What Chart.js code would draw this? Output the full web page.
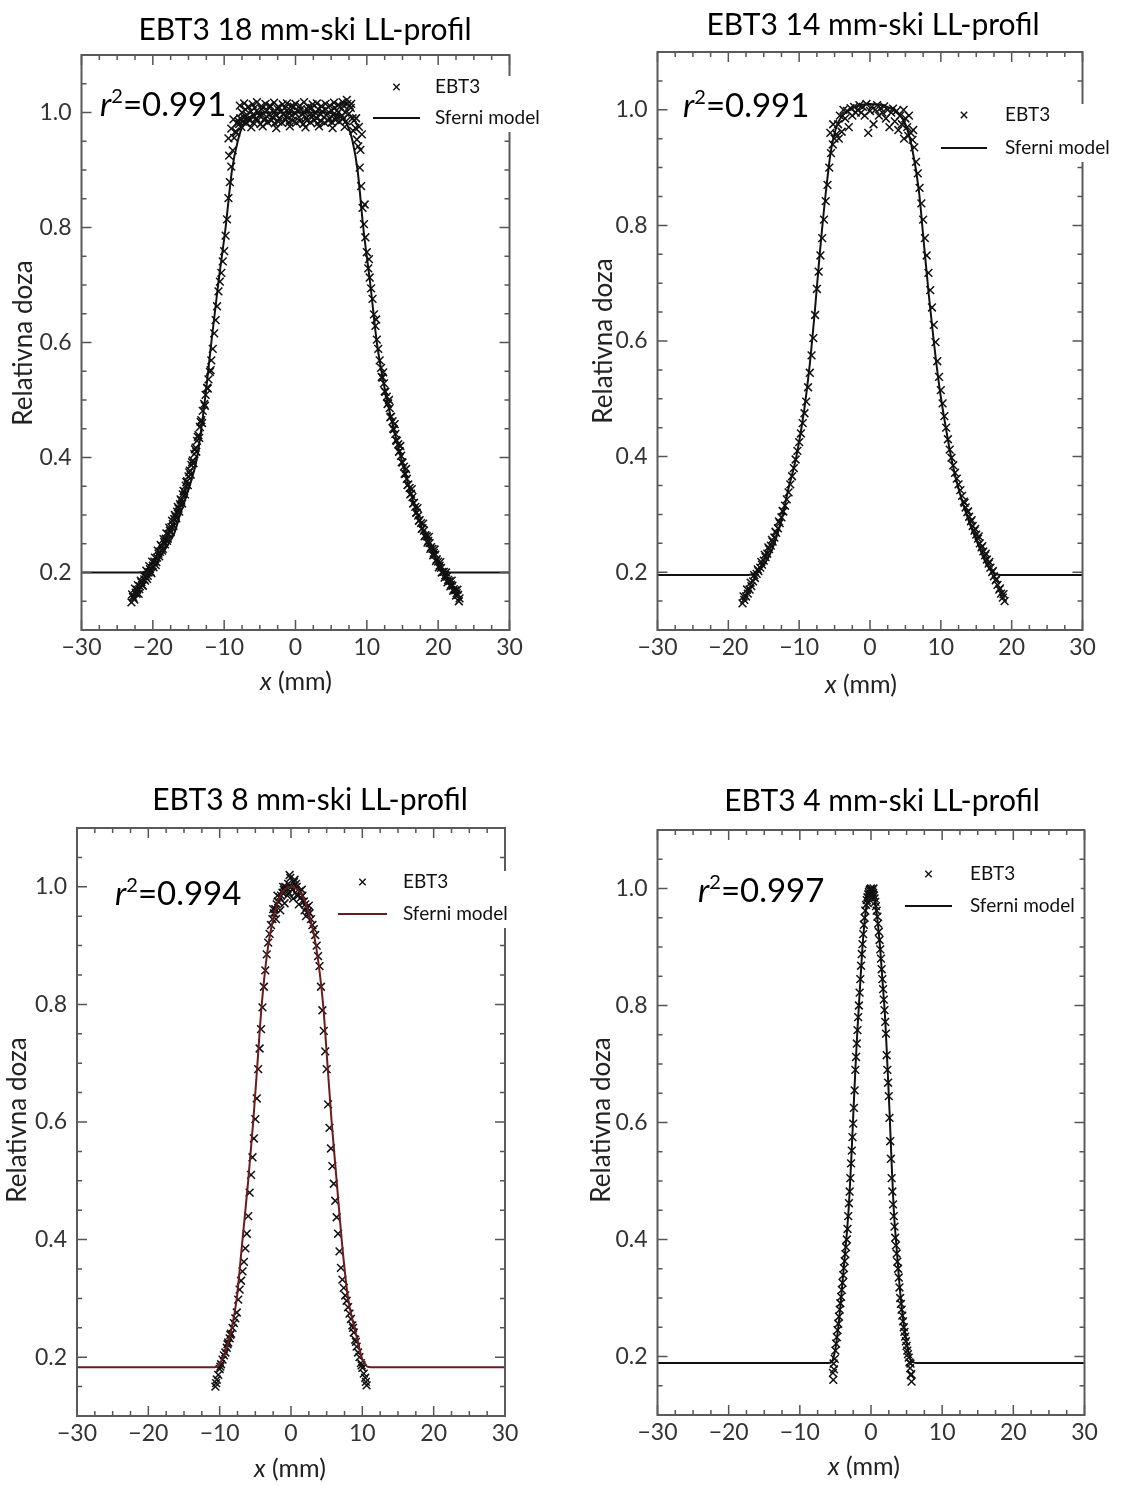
<!DOCTYPE html>
<html><head><meta charset="utf-8">
<script src="https://cdn.jsdelivr.net/npm/chart.js@4/dist/chart.umd.min.js"></script>
<style>
html,body{margin:0;padding:0;background:#fff;}
body{width:1126px;height:1486px;position:relative;overflow:hidden;}
canvas{position:absolute;}
</style></head><body>
<canvas id="c1"></canvas><canvas id="c2"></canvas><canvas id="c3"></canvas><canvas id="c4"></canvas>
<script>
// ---------- data ----------
const PANEL_TITLES = ['EBT3 18 mm-ski LL-profil','EBT3 14 mm-ski LL-profil','EBT3 8 mm-ski LL-profil','EBT3 4 mm-ski LL-profil'];
const R2_VALUES = ['0.991','0.991','0.994','0.997'];
const LEGEND_LABELS = ['EBT3','Sferni model'];
const X_TITLE = ['x',' (mm)'];
const Y_TITLE = 'Relativna doza';
const X_TICKS = [-30,-20,-10,0,10,20,30];
const Y_TICKS = [0.2,0.4,0.6,0.8,1.0];

const EBT3_18 = [
[-23.0,0.148],[-22.8,0.158],[-22.6,0.153],[-22.4,0.165],[-22.2,0.170],[-22.0,0.163],[-21.8,0.176],[-21.6,0.183],[-21.4,0.177],[-21.2,0.188],[-21.0,0.193],[-20.8,0.189],[-20.6,0.200],[-20.4,0.206],[-20.2,0.199],[-20.0,0.212],[-19.8,0.219],[-19.6,0.213],[-19.4,0.226],[-19.2,0.233],[-19.0,0.236],[-18.8,0.246],[-18.6,0.241],[-18.4,0.253],[-18.2,0.259],[-18.0,0.255],[-17.8,0.267],[-17.6,0.273],[-17.4,0.279],[-17.2,0.284],[-17.0,0.293],[-16.8,0.297],[-16.6,0.306],[-16.4,0.311],[-16.2,0.319],[-16.0,0.325],[-15.8,0.336],[-15.6,0.341],[-15.4,0.351],[-15.2,0.359],[-15.0,0.367],[-14.8,0.377],[-14.6,0.387],[-14.4,0.395],[-14.2,0.406],[-14.0,0.417],[-13.8,0.429],[-13.6,0.439],[-13.4,0.453],[-13.2,0.465],[-13.0,0.481],[-12.8,0.493],[-12.6,0.509],[-12.4,0.521],[-12.2,0.536],[-12.0,0.549],[-11.8,0.569],[-11.6,0.589],[-11.4,0.616],[-11.2,0.639],[-11.0,0.663],[-10.8,0.689],[-10.6,0.706],[-10.4,0.721],[-10.2,0.741],[-10.0,0.759],[-9.8,0.786],[-9.6,0.814],[-9.4,0.851],[-9.2,0.879],[-9.0,0.906],[-8.8,0.934],[-8.6,0.956],[-8.4,0.967],[-8.2,0.981],
[-22.9,0.162],[-22.5,0.172],[-22.1,0.178],[-21.7,0.186],[-21.3,0.195],[-20.9,0.203],[-20.5,0.211],[-20.1,0.219],[-19.7,0.226],[-19.3,0.238],[-18.9,0.248],[-18.5,0.258],[-18.1,0.268],[-17.7,0.278],[-17.3,0.290],[-16.9,0.300],[-16.5,0.314],[-16.1,0.327],[-15.7,0.342],[-15.3,0.357],[-14.9,0.374],[-14.5,0.392],[-14.1,0.414],[-13.7,0.436],[-13.3,0.462],[-9.4,0.955],[-9.0,0.972],[-8.7,0.988],[-9.3,0.925],
[-22.7,0.156],[-22.3,0.163],[-21.9,0.171],[-21.5,0.178],[-21.1,0.186],[-20.7,0.194],[-20.3,0.201],[-19.9,0.209],[-19.5,0.218],[-19.1,0.228],[-18.7,0.238],[-18.3,0.249],[-17.9,0.259],[-17.5,0.270],[-17.1,0.281],[-16.7,0.294],[-16.3,0.306],[-15.9,0.320],[-15.5,0.336],[-15.1,0.352],[-14.7,0.370],[-14.3,0.390],[-13.9,0.410],[-13.5,0.434],[-13.1,0.460],[-12.7,0.490],[-12.3,0.520],[-11.9,0.552],
[-8.0,0.985],[-7.75,0.990],[-7.5,1.000],[-7.25,0.992],[-7.0,1.005],[-6.75,0.995],[-6.5,0.988],[-6.25,1.002],[-6.0,0.996],[-5.75,1.008],[-5.5,0.990],[-5.25,1.000],[-5.0,0.994],[-4.75,1.006],[-4.5,0.998],[-4.25,0.990],[-4.0,1.004],[-3.75,0.996],[-3.5,1.010],[-3.25,0.992],[-3.0,1.000],[-2.75,0.995],[-2.5,1.006],[-2.25,0.990],[-2.0,1.002],[-1.75,0.997],[-1.5,1.008],[-1.25,0.993],[-1.0,1.000],[-0.75,1.004],[-0.5,0.995],[-0.25,1.010],[0.0,0.998],[0.25,1.003],[0.5,0.992],[0.75,1.006],[1.0,0.998],[1.25,1.000],[1.5,0.990],[1.75,1.004],[2.0,0.996],[2.25,1.008],[2.5,0.994],[2.75,1.000],[3.0,0.990],[3.25,1.005],[3.5,0.997],[3.75,1.002],[4.0,0.992],[4.25,1.006],[4.5,0.998],[4.75,0.990],[5.0,1.004],[5.25,0.996],[5.5,1.008],[5.75,0.993],[6.0,1.000],[6.25,1.010],[6.5,0.995],[6.75,1.012],[7.0,1.000],[7.25,1.015],[7.5,0.998],[7.75,1.008],[8.0,0.990],
[-7.9,0.980],[-7.4,0.984],[-6.9,0.981],[-6.4,0.986],[-5.9,0.982],[-5.4,0.985],[-4.9,0.980],[-4.4,0.987],[-3.9,0.983],[-3.4,0.986],[-2.9,0.981],[-2.4,0.984],[-1.9,0.982],[-1.4,0.987],[-0.9,0.983],[-0.4,0.986],[0.1,0.982],[0.6,0.985],[1.1,0.980],[1.6,0.986],[2.1,0.983],[2.6,0.987],[3.1,0.981],[3.6,0.985],[4.1,0.982],[4.6,0.986],[5.1,0.983],[5.6,0.987],[6.1,0.984],[6.6,0.988],[7.1,0.985],[7.6,1.012],
[-7.8,1.012],[-7.2,1.016],[-6.6,1.010],[-6.0,1.014],[-5.4,1.018],[-4.8,1.011],[-4.2,1.015],[-3.6,1.012],[-3.0,1.017],[-2.4,1.010],[-1.8,1.014],[-1.2,1.016],[-0.6,1.011],[0.0,1.015],[0.6,1.012],[1.2,1.018],[1.8,1.010],[2.4,1.014],[3.0,1.016],[3.6,1.011],[4.2,1.015],[4.8,1.012],[5.4,1.017],[6.0,1.013],[6.6,1.018],[7.2,1.022],[7.8,1.015],
[-8.3,0.965],[-7.6,0.975],[-6.2,0.974],[-4.6,0.976],[-2.7,0.973],[-0.8,0.976],[1.4,0.974],[3.3,0.976],[5.2,0.973],[6.9,0.975],[8.1,0.968],[8.5,0.990],
[8.2,0.986],[8.4,0.973],[8.6,0.953],[8.8,0.941],[9.0,0.904],[9.2,0.872],[9.4,0.834],[9.6,0.806],[9.8,0.783],[10.0,0.757],[10.2,0.729],[10.4,0.713],[10.6,0.694],[10.8,0.676],[11.0,0.649],[11.2,0.629],[11.4,0.605],[11.6,0.589],[11.8,0.569],[12.0,0.556],[12.2,0.539],[12.4,0.529],[12.6,0.514],[12.8,0.506],[13.0,0.494],[13.2,0.486],[13.4,0.471],[13.6,0.463],[13.8,0.449],[14.0,0.441],[14.2,0.429],[14.4,0.423],[14.6,0.411],[14.8,0.403],[15.0,0.391],[15.2,0.384],[15.4,0.371],[15.6,0.363],[15.8,0.353],[16.0,0.347],[16.2,0.337],[16.4,0.331],[16.6,0.321],[16.8,0.314],[17.0,0.304],[17.2,0.299],[17.4,0.291],[17.6,0.286],[17.8,0.277],[18.0,0.273],[18.2,0.265],[18.4,0.263],[18.6,0.255],[18.8,0.251],[19.0,0.244],[19.2,0.241],[19.4,0.234],[19.6,0.231],[19.8,0.223],[20.0,0.219],[20.2,0.212],[20.4,0.208],[20.6,0.201],[20.8,0.201],[21.0,0.195],[21.2,0.193],[21.4,0.187],[21.6,0.185],[21.8,0.179],[22.0,0.177],[22.2,0.171],[22.4,0.169],[22.6,0.164],[22.8,0.161],[23.0,0.155],
[9.1,0.935],[9.3,0.962],[8.9,0.975],[9.7,0.840],[10.3,0.745],[11.3,0.640],[12.3,0.548],[13.1,0.500],[13.9,0.458],[14.7,0.420],[15.5,0.380],[16.3,0.345],[17.1,0.312],[17.9,0.285],[18.7,0.262],[19.5,0.240],[20.3,0.218],[21.1,0.200],[21.9,0.186],[22.7,0.170],[22.9,0.150],
[12.1,0.540],[12.5,0.515],[12.9,0.493],[13.3,0.470],[13.7,0.450],[14.1,0.430],[14.5,0.410],[14.9,0.392],[15.3,0.372],[15.7,0.352],[16.1,0.336],[16.5,0.320],[16.9,0.304],[17.3,0.290],[17.7,0.276],[18.1,0.263],[18.5,0.252],[18.9,0.241],[19.3,0.230],[19.7,0.220],[20.1,0.209],[20.5,0.200],[20.9,0.191],[21.3,0.183],[21.7,0.176],[22.1,0.168],[22.5,0.160]
];
const MODEL_18 = [[-30,0.2],[-22,0.2],[-21.3,0.201],[-20.4,0.206],[-19.5,0.218],[-18.5,0.236],[-17.8,0.25],[-17,0.268],[-16.2,0.3],[-15,0.345],[-13.8,0.4],[-12.7,0.5],[-11.8,0.6],[-10.85,0.7],[-9.8,0.8],[-8.9,0.9],[-8.1,0.95],[-7.3,0.98],[-6,0.995],[-4,1.0],[0,1.0],[4,1.0],[6,0.995],[7.2,0.98],[8.0,0.95],[8.7,0.9],[9.5,0.8],[10.5,0.7],[11.4,0.6],[12.2,0.54],[13.0,0.49],[14.0,0.438],[15.0,0.39],[16.0,0.345],[17.0,0.303],[18.0,0.268],[19.0,0.24],[20.0,0.218],[20.8,0.205],[21.5,0.2],[22,0.2],[30,0.2]];

const EBT3_14 = [
[-18.0,0.146],[-17.75,0.152],[-17.5,0.158],[-17.25,0.163],[-17.0,0.170],[-16.75,0.176],[-16.5,0.184],[-16.25,0.190],[-16.0,0.197],[-15.75,0.202],[-15.5,0.208],[-15.25,0.213],[-15.0,0.220],[-14.75,0.226],[-14.5,0.232],[-14.25,0.240],[-14.0,0.246],[-13.75,0.253],[-13.5,0.260],[-13.25,0.268],[-13.0,0.276],[-12.75,0.285],[-12.5,0.295],[-12.25,0.305],[-12.0,0.315],[-11.75,0.326],[-11.5,0.338],[-11.25,0.352],[-11.0,0.366],[-10.75,0.380],[-10.5,0.395],[-10.25,0.410],[-10.0,0.425],[-9.75,0.440],[-9.5,0.458],[-9.25,0.475],[-9.0,0.495],[-8.75,0.520],[-8.5,0.545],[-8.25,0.575],[-8.0,0.605],[-7.75,0.645],[-7.5,0.690],[-7.25,0.720],[-7.0,0.748],[-6.75,0.778],[-6.5,0.810],[-6.25,0.842],[-6.0,0.870],[-5.75,0.900],[-5.5,0.925],[-5.25,0.940],[-5.0,0.950],[-4.75,0.958],
[-17.85,0.158],[-17.35,0.170],[-16.85,0.182],[-16.35,0.195],[-15.85,0.205],[-15.35,0.218],[-14.85,0.230],[-14.35,0.243],[-13.85,0.256],[-13.35,0.270],[-12.85,0.288],[-12.35,0.306],[-5.6,0.960],[-5.2,0.975],[-4.4,0.950],
[-4.5,0.975],[-4.25,0.990],[-4.0,0.962],[-3.75,1.000],[-3.5,0.985],[-3.25,0.998],[-3.0,0.970],[-2.75,1.003],[-2.5,0.990],[-2.25,1.005],[-2.0,0.995],[-1.75,1.000],[-1.5,1.008],[-1.25,0.995],[-1.0,1.005],[-0.75,0.990],[-0.5,1.010],[-0.25,0.960],[0.0,0.998],[0.25,1.005],[0.5,0.975],[0.75,1.000],[1.0,1.008],[1.25,0.990],[1.5,1.003],[1.75,0.995],[2.0,1.006],[2.25,0.985],[2.5,1.000],[2.75,0.970],[3.0,0.995],[3.25,1.002],[3.5,0.980],[3.75,0.998],[4.0,0.965],[4.25,0.990],[4.5,0.975],[4.75,1.000],[5.0,0.985],[5.25,0.970],[5.5,0.990],[5.75,0.960],[5.4,0.955],[6.1,0.965],[4.8,0.950],
[6.0,0.948],[6.25,0.935],[6.5,0.910],[6.75,0.890],[7.0,0.865],[7.25,0.838],[7.5,0.810],[7.75,0.778],[8.0,0.748],[8.25,0.718],[8.5,0.688],[8.75,0.658],[9.0,0.628],[9.25,0.598],[9.5,0.565],[9.75,0.538],[10.0,0.515],[10.25,0.492],[10.5,0.470],[10.75,0.450],[11.0,0.430],[11.25,0.412],[11.5,0.398],[11.75,0.385],[12.0,0.372],[12.25,0.362],[12.5,0.352],[12.75,0.342],[13.0,0.332],[13.25,0.322],[13.5,0.312],[13.75,0.304],[14.0,0.296],[14.25,0.288],[14.5,0.280],[14.75,0.272],[15.0,0.265],[15.25,0.258],[15.5,0.250],[15.75,0.243],[16.0,0.236],[16.25,0.229],[16.5,0.222],[16.75,0.215],[17.0,0.208],[17.25,0.200],[17.5,0.193],[17.75,0.186],[18.0,0.178],[18.25,0.170],[18.5,0.163],[18.75,0.156],[19.0,0.150],
[18.85,0.162],[18.35,0.172],[17.85,0.188],[17.35,0.202],[16.85,0.218],[16.35,0.232],[15.85,0.245],[15.35,0.262],[14.85,0.275],[14.35,0.290],[13.85,0.305],[13.35,0.320]
];
const MODEL_14 = [[-30,0.195],[-17.5,0.195],[-16.8,0.196],[-16.0,0.2],[-15.0,0.212],[-13.8,0.24],[-12.5,0.29],[-11.5,0.345],[-10.4,0.4],[-9.3,0.48],[-8.5,0.56],[-7.8,0.65],[-7.1,0.75],[-6.3,0.85],[-5.5,0.93],[-4.6,0.975],[-3.1,0.998],[0,1.01],[3.5,0.998],[5.0,0.975],[6.0,0.93],[6.9,0.86],[7.6,0.77],[8.3,0.68],[9.0,0.6],[9.8,0.52],[10.7,0.45],[11.6,0.39],[12.6,0.34],[13.9,0.29],[15.2,0.25],[16.4,0.215],[17.3,0.2],[18.0,0.196],[18.8,0.195],[30,0.195]];

const EBT3_8 = [
[-10.6,0.150],[-10.4,0.162],[-10.2,0.170],[-10.0,0.180],[-9.8,0.188],[-9.6,0.196],[-9.4,0.203],[-9.2,0.208],[-9.0,0.216],[-8.8,0.225],[-8.6,0.232],[-8.4,0.240],[-8.2,0.250],[-8.0,0.258],[-7.8,0.266],[-7.6,0.276],[-7.4,0.298],[-7.2,0.315],[-7.0,0.330],[-6.8,0.346],[-6.6,0.362],[-6.4,0.385],[-6.2,0.410],[-6.0,0.440],[-5.8,0.480],[-5.6,0.510],[-5.4,0.540],[-5.2,0.572],[-5.0,0.605],[-4.8,0.640],[-4.6,0.690],[-4.4,0.725],[-4.2,0.758],[-4.0,0.795],[-3.8,0.830],[-3.6,0.858],[-3.4,0.885],[-3.2,0.905],[-3.0,0.920],[-2.8,0.935],[-2.6,0.945],[-2.4,0.955],[-2.2,0.962],[-2.0,0.970],[-1.8,0.975],[-1.6,0.982],[-1.4,0.985],[-1.2,0.990],[-1.0,0.995],[-0.8,1.000],[-0.6,0.998],[-0.4,1.005],[-0.2,1.020],[0.0,1.000],[0.2,0.995],[0.4,1.008],[0.6,0.990],[0.8,1.000],[1.0,0.985],[1.2,0.992],[1.4,0.982],[1.6,0.985],[1.8,0.975],[2.0,0.970],[2.2,0.965],[2.4,0.958],[2.6,0.955],[2.8,0.945],[3.0,0.935],[3.2,0.928],[3.4,0.918],[3.6,0.900],[3.8,0.882],[4.0,0.865],[4.2,0.830],[4.4,0.790],[4.6,0.755],[4.8,0.720],[5.0,0.690],[5.2,0.630],[5.4,0.590],[5.6,0.555],[5.8,0.525],[6.0,0.495],[6.2,0.466],[6.4,0.438],[6.6,0.410],[6.8,0.380],[7.0,0.352],[7.2,0.332],[7.4,0.318],[7.6,0.305],[7.8,0.296],[8.0,0.285],[8.2,0.274],[8.4,0.265],[8.6,0.254],[8.8,0.242],[9.0,0.230],[9.2,0.218],[9.4,0.208],[9.6,0.200],[9.8,0.190],[10.0,0.182],[10.2,0.172],[10.4,0.165],[10.6,0.152],
[-1.5,0.960],[-1.1,1.000],[-0.5,0.985],[-0.1,1.015],[0.3,0.980],[0.7,1.005],[1.1,0.970],[1.5,0.995],[2.1,0.950],[-2.1,0.945],[0.5,1.012],[-0.3,0.990],[-10.5,0.156],[-9.9,0.184],[10.5,0.158],[9.9,0.186],
[-2.5,0.962],[-1.9,0.985],[-0.9,0.972],[0.9,0.985],[1.9,0.960],[2.5,0.968],[-8.9,0.222],[-8.5,0.238],[8.7,0.250],[9.1,0.226]
];
const MODEL_8 = [[-30,0.183],[-10.8,0.183],[-10.3,0.184],[-9.9,0.19],[-9.5,0.2],[-8.9,0.222],[-8.3,0.25],[-7.6,0.3],[-6.8,0.4],[-6.0,0.5],[-5.3,0.6],[-4.7,0.7],[-4.1,0.8],[-3.2,0.9],[-2.4,0.95],[-1.7,0.98],[0,1.0],[1.8,0.98],[2.6,0.95],[3.5,0.9],[4.5,0.8],[5.1,0.7],[5.7,0.6],[6.4,0.5],[7.1,0.4],[8.0,0.3],[8.9,0.25],[9.4,0.225],[9.9,0.2],[10.3,0.19],[10.7,0.184],[11.2,0.183],[30,0.183]];

const EBT3_4 = [
[-5.3,0.160],[-5.2,0.178],[-5.1,0.196],[-5.0,0.210],[-4.9,0.222],[-4.8,0.233],[-4.7,0.245],[-4.6,0.256],[-4.5,0.268],[-4.4,0.280],[-4.3,0.291],[-4.2,0.302],[-4.1,0.314],[-4.0,0.326],[-3.9,0.339],[-3.8,0.351],[-3.7,0.363],[-3.6,0.375],[-3.5,0.387],[-3.4,0.400],[-3.3,0.418],[-3.2,0.440],[-3.1,0.462],[-3.0,0.482],[-2.9,0.505],[-2.8,0.530],[-2.7,0.552],[-2.6,0.575],[-2.5,0.598],[-2.4,0.625],[-2.3,0.655],[-2.2,0.690],[-2.1,0.712],[-2.0,0.735],[-1.9,0.758],[-1.8,0.780],[-1.7,0.800],[-1.6,0.822],[-1.5,0.845],[-1.4,0.868],[-1.3,0.888],[-1.2,0.905],[-1.1,0.922],[-1.0,0.938],[-0.9,0.950],[-0.8,0.962],[-0.7,0.972],[-0.6,0.980],[-0.5,0.985],[-0.4,0.990],[-0.3,0.994],[-0.2,0.997],[-0.1,0.999],[0.0,1.000],[0.1,0.998],[0.2,0.995],[0.3,0.992],[0.4,0.988],[0.5,0.983],[0.6,0.977],[0.7,0.970],[0.8,0.962],[0.9,0.952],[1.0,0.940],[1.1,0.926],[1.2,0.912],[1.3,0.896],[1.4,0.880],[1.5,0.862],[1.6,0.845],[1.7,0.828],[1.8,0.810],[1.9,0.792],[2.0,0.772],[2.1,0.752],[2.2,0.715],[2.3,0.690],[2.4,0.668],[2.5,0.645],[2.6,0.608],[2.7,0.568],[2.8,0.538],[2.9,0.505],[3.0,0.482],[3.1,0.460],[3.2,0.440],[3.3,0.422],[3.4,0.403],[3.5,0.390],[3.6,0.376],[3.7,0.362],[3.8,0.350],[3.9,0.335],[4.0,0.318],[4.1,0.300],[4.2,0.290],[4.3,0.280],[4.4,0.270],[4.5,0.260],[4.6,0.250],[4.7,0.242],[4.8,0.234],[4.9,0.226],[5.0,0.218],[5.1,0.210],[5.2,0.204],[5.3,0.198],[5.4,0.190],[5.5,0.180],[5.6,0.168],[5.7,0.157],
[-0.25,0.990],[0.15,0.985],[0.35,1.000],[-0.45,0.975],[0.05,0.990],[-5.35,0.172],[-5.25,0.188],[5.65,0.170],[5.55,0.188]
];
const MODEL_4 = [[-30,0.189],[-6.0,0.189],[-5.6,0.19],[-5.3,0.197],[-5.0,0.213],[-4.6,0.25],[-4.2,0.3],[-3.7,0.37],[-3.4,0.41],[-3.1,0.46],[-2.8,0.53],[-2.5,0.61],[-2.2,0.69],[-1.9,0.76],[-1.6,0.82],[-1.2,0.9],[-0.8,0.955],[-0.4,0.985],[0,0.993],[0.4,0.985],[0.8,0.957],[1.2,0.91],[1.6,0.845],[2.0,0.775],[2.3,0.7],[2.6,0.62],[2.9,0.53],[3.2,0.45],[3.6,0.385],[4.1,0.31],[4.6,0.255],[5.0,0.225],[5.3,0.205],[5.6,0.193],[6.0,0.19],[6.4,0.189],[30,0.189]];

const SERIES = [[EBT3_18, MODEL_18],[EBT3_14, MODEL_14],[EBT3_8, MODEL_8],[EBT3_4, MODEL_4]];

// ---------- layout & style ----------
const FONT = 'Lato, "Open Sans", sans-serif';
const PANELS = [
 {id:'c1', left:0,   top:0,   w:563, h:720, area:{l:81.5, r:509.5, t:55, b:630}, ymax:1.1,
  title:{x:305,y:30}, ytitle:{x:24,y:343}, xtitle:{x:296,y:682}, r2:{x:100,y:116},
  legend:{x1:373,x2:420,tx:435,y1:87,y2:118}, lineColor:'#111'},
 {id:'c2', left:563, top:0,   w:563, h:720, area:{l:657.5, r:1082.5, t:52, b:630}, ymax:1.1,
  title:{x:873,y:25}, ytitle:{x:604,y:341}, xtitle:{x:861,y:685}, r2:{x:683,y:117},
  legend:{x1:941,x2:987,tx:1005,y1:115,y2:148}, lineColor:'#111'},
 {id:'c3', left:0,   top:740, w:563, h:746, area:{l:77, r:505, t:828, b:1416}, ymax:1.1,
  title:{x:310,y:800}, ytitle:{x:18,y:1120}, xtitle:{x:290,y:1469}, r2:{x:115,y:905},
  legend:{x1:338,x2:387,tx:403,y1:882,y2:914}, lineColor:'#6b1c1c'},
 {id:'c4', left:563, top:740, w:563, h:746, area:{l:657.5, r:1084.5, t:830, b:1415}, ymax:1.1,
  title:{x:882,y:801}, ytitle:{x:602,y:1120}, xtitle:{x:864,y:1467}, r2:{x:698,y:902},
  legend:{x1:905,x2:952,tx:970,y1:874,y2:906}, lineColor:'#111'}
];

function fmtX(v){ return v < 0 ? '\u2212' + Math.abs(v) : String(v); }

function decorPlugin(p, idx){
  const ox = p.left, oy = p.top;
  return {
    id:'decor'+idx,
    afterDraw(chart){
      const ctx = chart.ctx, ca = chart.chartArea, xs = chart.scales.x, ys = chart.scales.y;
      ctx.save();
      // inward ticks on all four sides
      ctx.strokeStyle = '#555'; ctx.lineWidth = 1.5;
      ctx.beginPath();
      for (let k = -12; k <= 12; k++) {
        const v = k * 2.5, px = xs.getPixelForValue(v), len = (k % 4 === 0) ? 10 : 5;
        ctx.moveTo(px, ca.bottom); ctx.lineTo(px, ca.bottom - len);
        ctx.moveTo(px, ca.top); ctx.lineTo(px, ca.top + len);
      }
      for (let k = 2; k <= 22; k++) {
        const v = k * 0.05; if (v > p.ymax + 1e-9) break;
        const py = ys.getPixelForValue(v), len = (k % 4 === 0) ? 10 : 5;
        ctx.moveTo(ca.left, py); ctx.lineTo(ca.left + len, py);
        ctx.moveTo(ca.right, py); ctx.lineTo(ca.right - len, py);
      }
      ctx.stroke();
      // frame
      ctx.strokeStyle = '#5a5a5a'; ctx.lineWidth = 2;
      ctx.strokeRect(ca.left, ca.top, ca.right - ca.left, ca.bottom - ca.top);

      // legend (white box, like a frameless matplotlib legend)
      const lg = p.legend;
      ctx.font = '19px ' + FONT;
      const tw = Math.max(ctx.measureText(LEGEND_LABELS[0]).width, ctx.measureText(LEGEND_LABELS[1]).width);
      ctx.fillStyle = '#fff';
      ctx.fillRect(lg.x1 - ox - 6, lg.y1 - oy - 11, (lg.tx - lg.x1) + tw + 12, (lg.y2 - lg.y1) + 25);
      const mx = (lg.x1 + lg.x2) / 2 - ox, my = lg.y1 - oy, r = 3.2;
      ctx.strokeStyle = '#111'; ctx.lineWidth = 1.4;
      ctx.beginPath();
      ctx.moveTo(mx - r, my - r); ctx.lineTo(mx + r, my + r);
      ctx.moveTo(mx - r, my + r); ctx.lineTo(mx + r, my - r);
      ctx.stroke();
      ctx.strokeStyle = p.lineColor; ctx.lineWidth = 2;
      ctx.beginPath(); ctx.moveTo(lg.x1 - ox, lg.y2 - oy); ctx.lineTo(lg.x2 - ox, lg.y2 - oy); ctx.stroke();
      ctx.fillStyle = '#111'; ctx.textBaseline = 'middle'; ctx.textAlign = 'left';
      ctx.fillText(LEGEND_LABELS[0], lg.tx - ox, lg.y1 - oy);
      ctx.fillText(LEGEND_LABELS[1], lg.tx - ox, lg.y2 - oy);

      // panel title
      ctx.fillStyle = '#000'; ctx.textAlign = 'center'; ctx.textBaseline = 'middle';
      ctx.font = '30px ' + FONT;
      ctx.fillText(PANEL_TITLES[idx], p.title.x - ox, p.title.y - oy);

      // axis titles
      ctx.fillStyle = '#222';
      ctx.font = '26px ' + FONT;
      ctx.save();
      ctx.translate(p.ytitle.x - ox, p.ytitle.y - oy);
      ctx.rotate(-Math.PI / 2);
      ctx.fillText(Y_TITLE, 0, 0);
      ctx.restore();
      ctx.textAlign = 'left';
      ctx.font = 'italic 25px ' + FONT; const w1 = ctx.measureText(X_TITLE[0]).width;
      ctx.font = '25px ' + FONT; const w2 = ctx.measureText(X_TITLE[1]).width;
      let sx = p.xtitle.x - ox - (w1 + w2) / 2;
      ctx.font = 'italic 25px ' + FONT; ctx.fillText(X_TITLE[0], sx, p.xtitle.y - oy);
      ctx.font = '25px ' + FONT; ctx.fillText(X_TITLE[1], sx + w1, p.xtitle.y - oy);

      // r^2 annotation
      ctx.fillStyle = '#000'; ctx.textBaseline = 'alphabetic';
      let rx = p.r2.x - ox; const ry = p.r2.y - oy;
      ctx.font = 'italic 33px ' + FONT; ctx.fillText('r', rx, ry); rx += ctx.measureText('r').width;
      ctx.font = '20px ' + FONT; ctx.fillText('2', rx, ry - 13); rx += ctx.measureText('2').width;
      ctx.font = '33px ' + FONT; ctx.fillText('=' + R2_VALUES[idx], rx, ry);
      ctx.restore();
    }
  };
}

PANELS.forEach((p, idx) => {
  const cv = document.getElementById(p.id);
  cv.width = p.w; cv.height = p.h;
  cv.style.left = p.left + 'px'; cv.style.top = p.top + 'px';
  cv.style.width = p.w + 'px'; cv.style.height = p.h + 'px';
  const A = {l: p.area.l - p.left, r: p.area.r - p.left, t: p.area.t - p.top, b: p.area.b - p.top};
  const [pts, model] = SERIES[idx];
  new Chart(cv, {
    type: 'scatter',
    data: { datasets: [
      { label: LEGEND_LABELS[1], data: model.map(([x, y]) => ({x, y})), showLine: true, pointRadius: 0,
        borderColor: p.lineColor, borderWidth: 2, cubicInterpolationMode: 'monotone', fill: false, order: 0 },
      { label: LEGEND_LABELS[0], data: pts.map(([x, y]) => ({x, y})), showLine: false, pointStyle: 'crossRot',
        pointRadius: 5.5, pointBorderWidth: 1.5, borderColor: '#111', backgroundColor: '#111', order: 1 }
    ]},
    options: {
      responsive: false, animation: false, devicePixelRatio: 1,
      events: [],
      layout: { padding: { left: 0, top: A.t, right: p.w - A.r, bottom: 0 } },
      plugins: { legend: { display: false }, tooltip: { enabled: false }, title: { display: false } },
      scales: {
        x: { type: 'linear', position: 'bottom', min: -30, max: 30,
             afterFit: s => { s.height = p.h - A.b; },
             afterBuildTicks: s => { s.ticks = X_TICKS.map(v => ({value: v})); },
             grid: { display: false, drawTicks: false }, border: { display: false },
             ticks: { padding: 4, color: '#333', font: { family: FONT, size: 23 }, maxRotation: 0, autoSkip: false, callback: v => fmtX(v) } },
        y: { type: 'linear', position: 'left', min: 0.1, max: p.ymax,
             afterFit: s => { s.width = A.l; },
             afterBuildTicks: s => { s.ticks = Y_TICKS.map(v => ({value: v})); },
             grid: { display: false, drawTicks: false }, border: { display: false },
             ticks: { padding: 10, color: '#333', font: { family: FONT, size: 23 }, autoSkip: false, callback: v => Number(v).toFixed(1) } }
      }
    },
    plugins: [decorPlugin(p, idx)]
  });
});
</script>
</body></html>
